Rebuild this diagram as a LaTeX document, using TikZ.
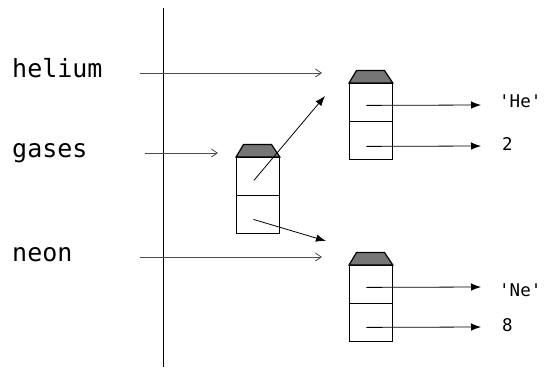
\documentclass[tikz,border=0pt]{standalone}
\usepackage{fontspec}
\setmonofont{DejaVu Sans Mono}
\usetikzlibrary{arrows.meta}
\definecolor{capgray}{RGB}{118,118,118}
\begin{document}
\begin{tikzpicture}[x=1pt,y=-1pt,
  varname/.style={anchor=base west,inner sep=0pt,font=\ttfamily\fontsize{25}{30}\selectfont},
  valtext/.style={anchor=base west,inner sep=0pt,font=\ttfamily\fontsize{17.5}{20}\selectfont},
  cell/.style={draw=black,line width=0.8pt,minimum width=43pt,minimum height=38pt,inner sep=0pt,anchor=north west},
  capshape/.style={draw=black,line width=1.2pt,fill=capgray},
  varref/.style={draw=black!70,line width=0.8pt,-{Straight Barb[length=6pt,width=8pt]}},
  objref/.style={draw=black,line width=0.8pt,-{Latex[length=10pt,width=7.5pt]}},
  axis/.style={draw=black,line width=0.9pt}]
\useasboundingbox (0,0) rectangle (546,367);
% frame separator
\coordinate (top) at (163,8);
\coordinate (bot) at (163,367);
\draw[axis] (top) -- (bot);
% names
\node[varname] (helium) at (12,77) {helium};
\node[varname] (gases) at (12,157) {gases};
\node[varname] (neon) at (12,261) {neon};
% objects
\node[cell] (he1) at (349,83) {};
\node[cell] (he2) at (349,121) {};
\node[cell] (g1) at (236,157) {};
\node[cell] (g2) at (236,195) {};
\node[cell] (ne1) at (349,265) {};
\node[cell] (ne2) at (349,303) {};
\foreach \o in {he1,g1,ne1}{
  \draw[capshape] (\o.north west) -- ++(7.5,-12.5) -- ++(28,0) -- (\o.north east) -- cycle;
}
% values
\node[valtext] (heval) at (499,107) {'He'};
\node[valtext] (twoval) at (502,150) {2};
\node[valtext] (neval) at (499,296) {'Ne'};
\node[valtext] (eightval) at (502,331) {8};
% variable arrows
\coordinate (hs) at (140,73);  \coordinate (he) at (322,73);
\coordinate (gs) at (145,153); \coordinate (ge) at (218,153);
\coordinate (ns) at (140,257); \coordinate (nend) at (322,257);
\draw[varref] (hs) -- (he);
\draw[varref] (gs) -- (ge);
\draw[varref] (ns) -- (nend);
% value arrows
\coordinate (hea) at (481,105);
\coordinate (twoa) at (481,146);
\coordinate (nea) at (481,287);
\coordinate (eighta) at (481,327);
\draw[objref] ([shift={(-4.5,3)}]he1.center) -- (hea);
\draw[objref] ([shift={(-4.5,6)}]he2.center) -- (twoa);
\draw[objref] ([shift={(-4.5,3)}]ne1.center) -- (nea);
\draw[objref] ([shift={(-4.5,5)}]ne2.center) -- (eighta);
% list arrows
\coordinate (l0) at (325,96);
\coordinate (l1) at (326,241);
\draw[objref] ([shift={(-4,4)}]g1.center) -- (l0);
\draw[objref] ([shift={(-4.5,5)}]g2.center) -- (l1);
\end{tikzpicture}
\end{document}
